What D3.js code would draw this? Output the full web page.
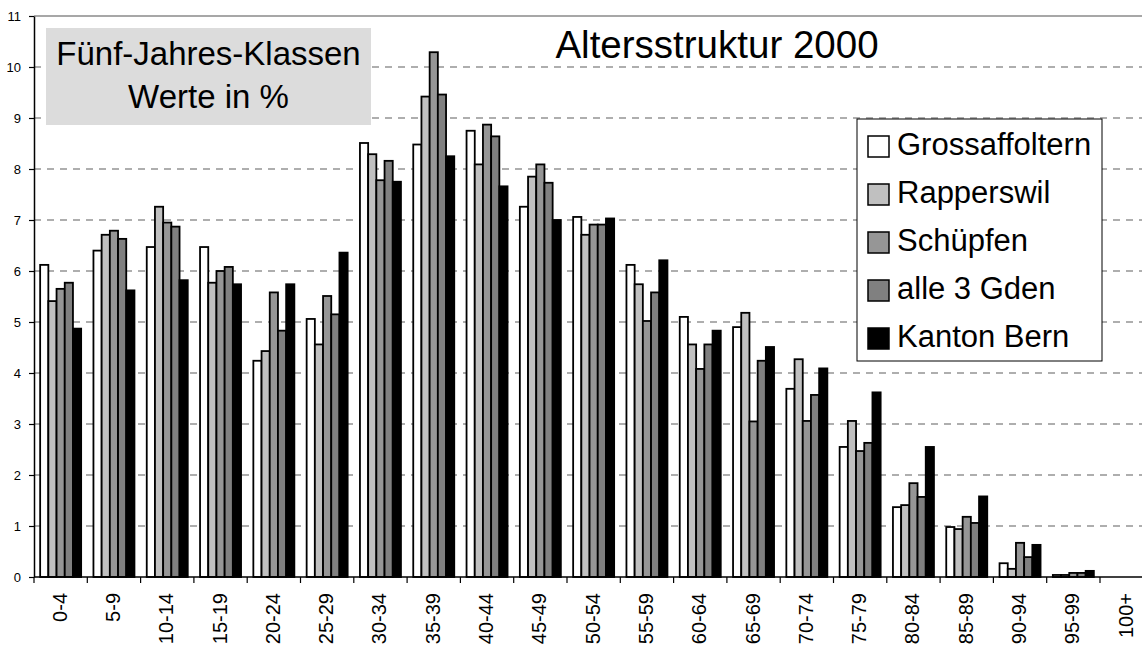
<!DOCTYPE html>
<meta charset="utf-8">
<style>
  body { margin: 0; background: #fff; }
  svg { display: block; font-family: "Liberation Sans", Arial, sans-serif; }
</style>
<body>
<div id="chart"></div>
<script src="https://d3js.org/d3.v7.min.js"></script>
<script>
  // age classes
  var categories = ["0-4", "5-9", "10-14", "15-19", "20-24", "25-29", "30-34", "35-39", "40-44", "45-49",
    "50-54", "55-59", "60-64", "65-69", "70-74", "75-79", "80-84", "85-89", "90-94", "95-99", "100+"];

  var seriesNames = ["Grossaffoltern", "Rapperswil", "Schüpfen", "alle 3 Gden", "Kanton Bern"];
  var seriesColors = ["#ffffff", "#c0c0c0", "#969696", "#808080", "#000000"];

  // values in %
  var grossaffoltern = [6.12, 6.40, 6.47, 6.47, 4.24, 5.06, 8.51, 8.48, 8.75, 7.26, 7.06, 6.12, 5.10, 4.90, 3.69, 2.55, 1.37, 0.98, 0.27, 0.04, 0];
  var rapperswil     = [5.41, 6.71, 7.26, 5.77, 4.43, 4.56, 8.29, 9.42, 8.09, 7.85, 6.71, 5.74, 4.56, 5.18, 4.27, 3.06, 1.41, 0.94, 0.16, 0.04, 0];
  var schuepfen      = [5.65, 6.79, 6.95, 6.00, 5.58, 5.51, 7.78, 10.29, 8.87, 8.09, 6.91, 5.02, 4.08, 3.05, 3.06, 2.47, 1.84, 1.18, 0.67, 0.08, 0];
  var alle3Gden      = [5.77, 6.63, 6.87, 6.08, 4.83, 5.15, 8.16, 9.46, 8.64, 7.73, 6.91, 5.58, 4.56, 4.24, 3.57, 2.63, 1.57, 1.06, 0.39, 0.08, 0];
  var kantonBern     = [4.87, 5.62, 5.82, 5.74, 5.74, 6.36, 7.75, 8.25, 7.66, 7.00, 7.03, 6.21, 4.83, 4.51, 4.09, 3.62, 2.55, 1.58, 0.63, 0.12, 0];

  var yTicks = [0, 1, 2, 3, 4, 5, 6, 7, 8, 9, 10, 11];

  var allSeries = [grossaffoltern, rapperswil, schuepfen, alle3Gden, kantonBern];

  var W = 1142, H = 645;
  var plotLeft = 34, plotTop = 16, plotBottom = 577;
  var catStep = 53.3;

  var svg = d3.select("#chart").append("svg")
    .attr("width", W)
    .attr("height", H);

  var x0 = d3.scaleBand()
    .domain(categories)
    .range([plotLeft, plotLeft + categories.length * catStep])
    .padding(0);

  var x1 = d3.scaleBand()
    .domain(seriesNames)
    .range([0, x0.bandwidth()])
    .paddingInner(0)
    .paddingOuter(0.75);

  var y = d3.scaleLinear()
    .domain([0, 11])
    .range([plotBottom, plotTop]);

  // dashed gridlines
  svg.append("g")
    .selectAll("line")
    .data(yTicks.filter(function (d) { return d > 0 && d < 11; }))
    .enter()
    .append("line")
    .attr("x1", plotLeft)
    .attr("x2", W)
    .attr("y1", function (d) { return y(d); })
    .attr("y2", function (d) { return y(d); })
    .attr("stroke", "#5e5e5e")
    .attr("stroke-width", 1.2)
    .attr("stroke-dasharray", "7,6");

  // top border
  svg.append("line")
    .attr("x1", plotLeft).attr("x2", W)
    .attr("y1", y(11)).attr("y2", y(11))
    .attr("stroke", "#8a8a8a")
    .attr("stroke-width", 1.5);

  // bars
  var groups = svg.append("g")
    .selectAll("g")
    .data(categories)
    .enter()
    .append("g")
    .attr("transform", function (d) { return "translate(" + x0(d) + ",0)"; });

  groups.selectAll("rect")
    .data(function (d, i) {
      return allSeries.map(function (s, j) { return { name: seriesNames[j], color: seriesColors[j], value: s[i] }; })
        .filter(function (e) { return e.value > 0; });
    })
    .enter()
    .append("rect")
    .attr("x", function (d) { return x1(d.name); })
    .attr("y", function (d) { return y(d.value); })
    .attr("width", x1.bandwidth())
    .attr("height", function (d) { return y(0) - y(d.value); })
    .attr("fill", function (d) { return d.color; })
    .attr("stroke", "#000")
    .attr("stroke-width", 1.8);

  // y axis
  var yAxis = svg.append("g")
    .attr("transform", "translate(" + plotLeft + ",0)")
    .call(d3.axisLeft(y).tickValues(yTicks).tickSize(5).tickPadding(8).tickSizeOuter(0));
  yAxis.select(".domain").attr("stroke", "#000").attr("stroke-width", 1.5);
  yAxis.selectAll(".tick line").attr("stroke", "#000").attr("stroke-width", 1.2);
  yAxis.selectAll("text").attr("font-size", 13).attr("font-family", "Liberation Sans, Arial, sans-serif").attr("fill", "#000");

  // x axis line and ticks at category boundaries
  svg.append("line")
    .attr("x1", plotLeft).attr("x2", W)
    .attr("y1", plotBottom).attr("y2", plotBottom)
    .attr("stroke", "#000")
    .attr("stroke-width", 1.5);

  svg.append("g")
    .selectAll("line")
    .data(categories)
    .enter()
    .append("line")
    .attr("x1", function (d) { return x0(d); })
    .attr("x2", function (d) { return x0(d); })
    .attr("y1", plotBottom)
    .attr("y2", plotBottom + 6)
    .attr("stroke", "#000")
    .attr("stroke-width", 1.2);

  svg.append("g")
    .selectAll("text")
    .data(categories)
    .enter()
    .append("text")
    .attr("transform", function (d) {
      return "translate(" + (x0(d) + x0.bandwidth() / 2 + 6) + "," + (plotBottom + 16) + ") rotate(-90)";
    })
    .attr("text-anchor", "end")
    .attr("font-size", 20)
    .attr("fill", "#000")
    .text(function (d) { return d; });

  // info box
  svg.append("rect")
    .attr("x", 46).attr("y", 28)
    .attr("width", 325).attr("height", 97)
    .attr("fill", "#dcdcdc");

  svg.append("text")
    .attr("x", 208.5).attr("y", 65)
    .attr("text-anchor", "middle")
    .attr("font-size", 33)
    .text("Fünf-Jahres-Klassen");

  svg.append("text")
    .attr("x", 208.5).attr("y", 108)
    .attr("text-anchor", "middle")
    .attr("font-size", 33)
    .text("Werte in %");

  // title
  svg.append("text")
    .attr("x", 717).attr("y", 58)
    .attr("text-anchor", "middle")
    .attr("font-size", 38.5)
    .text("Altersstruktur 2000");

  // legend
  var legend = svg.append("g");
  legend.append("rect")
    .attr("x", 857).attr("y", 119)
    .attr("width", 245).attr("height", 242)
    .attr("fill", "#fff")
    .attr("stroke", "#000")
    .attr("stroke-width", 1);

  var items = legend.selectAll("g")
    .data(seriesNames)
    .enter()
    .append("g")
    .attr("transform", function (d, i) { return "translate(868," + (136 + i * 48) + ")"; });

  items.append("rect")
    .attr("width", 21).attr("height", 21)
    .attr("fill", function (d, i) { return seriesColors[i]; })
    .attr("stroke", "#000")
    .attr("stroke-width", 1.5);

  items.append("text")
    .attr("x", 29).attr("y", 18.5)
    .attr("font-size", 31)
    .text(function (d) { return d; });
</script>
</body>
